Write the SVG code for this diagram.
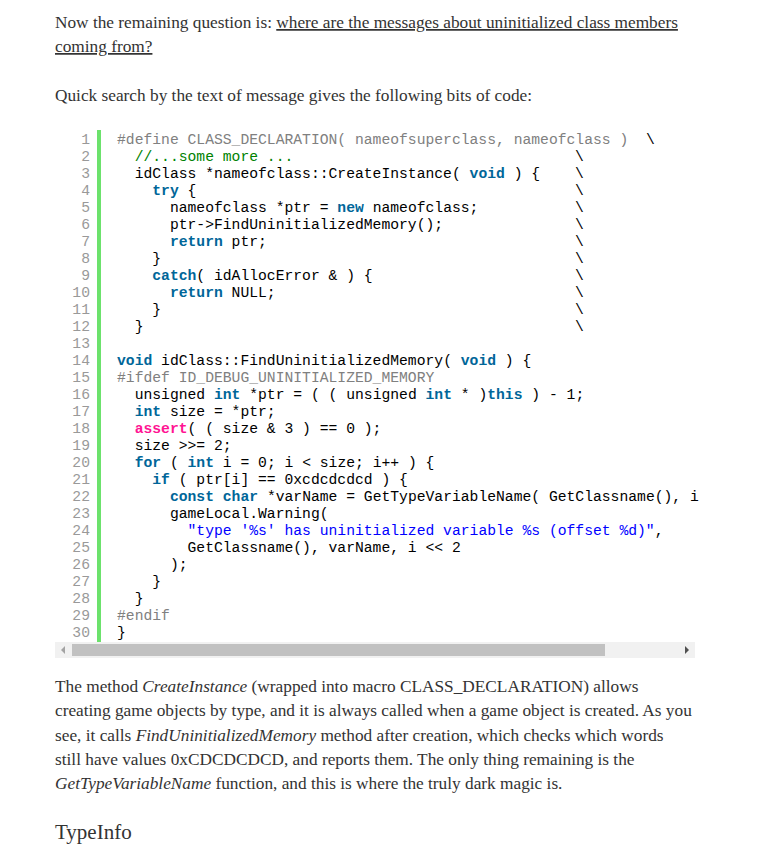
<svg xmlns="http://www.w3.org/2000/svg" width="770" height="858" viewBox="0 0 770 858">
<style>
.p{font-family:"Liberation Serif",serif;font-size:17.3px;fill:#333}
.c{font-family:"Liberation Mono",monospace;font-size:14.7px;fill:#000;white-space:pre}
.n{font-family:"Liberation Mono",monospace;font-size:14.7px;fill:#999;text-anchor:end}
.k{fill:#006699;font-weight:bold}
.pp{fill:#808080}
.cm{fill:#008200}
.s{fill:#0000ff}
.a{fill:#ff1493;font-weight:bold}
.bs{font-family:"Liberation Mono",monospace;font-size:14.7px;fill:#000}
</style>
<rect width="770" height="858" fill="#fff"/>
<g id="intro">
<text class="p" x="55" y="28">Now the remaining question is: <tspan text-decoration="underline">where are the messages about uninitialized class members</tspan></text>
<text class="p" x="55" y="52" text-decoration="underline">coming from?</text>
<text class="p" x="55" y="101">Quick search by the text of message gives the following bits of code:</text>
</g>
<g id="code" xml:space="preserve">
<rect x="97" y="130" width="4" height="512" fill="#6ce26c"/>
<g class="n">
<text x="90" y="144">1</text><text x="90" y="161">2</text><text x="90" y="178">3</text><text x="90" y="195">4</text><text x="90" y="212">5</text><text x="90" y="229">6</text><text x="90" y="246">7</text><text x="90" y="263">8</text><text x="90" y="280">9</text><text x="90" y="297">10</text><text x="90" y="314">11</text><text x="90" y="331">12</text><text x="90" y="348">13</text><text x="90" y="365">14</text><text x="90" y="382">15</text><text x="90" y="399">16</text><text x="90" y="416">17</text><text x="90" y="433">18</text><text x="90" y="450">19</text><text x="90" y="467">20</text><text x="90" y="484">21</text><text x="90" y="501">22</text><text x="90" y="518">23</text><text x="90" y="535">24</text><text x="90" y="552">25</text><text x="90" y="569">26</text><text x="90" y="586">27</text><text x="90" y="603">28</text><text x="90" y="620">29</text><text x="90" y="637">30</text>
</g>
<text class="c" x="117" y="144"><tspan class="pp">#define CLASS_DECLARATION( nameofsuperclass, nameofclass )</tspan></text>
<text class="c" x="117" y="161"><tspan class="cm">  //...some more ...</tspan></text>
<text class="c" x="117" y="178">  idClass *nameofclass::CreateInstance( <tspan class="k">void</tspan> ) {</text>
<text class="c" x="117" y="195">    <tspan class="k">try</tspan> {</text>
<text class="c" x="117" y="212">      nameofclass *ptr = <tspan class="k">new</tspan> nameofclass;</text>
<text class="c" x="117" y="229">      ptr-&gt;FindUninitializedMemory();</text>
<text class="c" x="117" y="246">      <tspan class="k">return</tspan> ptr;</text>
<text class="c" x="117" y="263">    }</text>
<text class="c" x="117" y="280">    <tspan class="k">catch</tspan>( idAllocError &amp; ) {</text>
<text class="c" x="117" y="297">      <tspan class="k">return</tspan> NULL;</text>
<text class="c" x="117" y="314">    }</text>
<text class="c" x="117" y="331">  }</text>
<text class="c" x="117" y="365"><tspan class="k">void</tspan> idClass::FindUninitializedMemory( <tspan class="k">void</tspan> ) {</text>
<text class="c" x="117" y="382"><tspan class="pp">#ifdef ID_DEBUG_UNINITIALIZED_MEMORY</tspan></text>
<text class="c" x="117" y="399">  unsigned <tspan class="k">int</tspan> *ptr = ( ( unsigned <tspan class="k">int</tspan> * )<tspan class="k">this</tspan> ) - 1;</text>
<text class="c" x="117" y="416">  <tspan class="k">int</tspan> size = *ptr;</text>
<text class="c" x="117" y="433">  <tspan class="a">assert</tspan>( ( size &amp; 3 ) == 0 );</text>
<text class="c" x="117" y="450">  size &gt;&gt;= 2;</text>
<text class="c" x="117" y="467">  <tspan class="k">for</tspan> ( <tspan class="k">int</tspan> i = 0; i &lt; size; i++ ) {</text>
<text class="c" x="117" y="484">    <tspan class="k">if</tspan> ( ptr[i] == 0xcdcdcdcd ) {</text>
<text class="c" x="117" y="501">      <tspan class="k">const</tspan> <tspan class="k">char</tspan> *varName = GetTypeVariableName( GetClassname(), i</text>
<text class="c" x="117" y="518">      gameLocal.Warning(</text>
<text class="c" x="117" y="535">        <tspan class="s">"type '%s' has uninitialized variable %s (offset %d)"</tspan>,</text>
<text class="c" x="117" y="552">        GetClassname(), varName, i &lt;&lt; 2</text>
<text class="c" x="117" y="569">      );</text>
<text class="c" x="117" y="586">    }</text>
<text class="c" x="117" y="603">  }</text>
<text class="c" x="117" y="620"><tspan class="pp">#endif</tspan></text>
<text class="c" x="117" y="637">}</text>
<text class="bs" x="646" y="144" fill="#808080">\</text>
<text class="bs" x="575" y="161" fill="#008200">\</text>
<g class="bs"><text x="575" y="178">\</text><text x="575" y="195">\</text><text x="575" y="212">\</text><text x="575" y="229">\</text><text x="575" y="246">\</text><text x="575" y="263">\</text><text x="575" y="280">\</text><text x="575" y="297">\</text><text x="575" y="314">\</text><text x="575" y="331">\</text></g>
</g>
<g id="scrollbar">
<rect x="55" y="642" width="640" height="16" fill="#f1f1f1"/>
<rect x="72" y="644" width="533" height="12" fill="#c1c1c1"/>
<path d="M65 646 L61 650 L65 654 Z" fill="#a3a3a3"/>
<path d="M685 646 L689 650 L685 654 Z" fill="#505050"/>
</g>
<g id="body">
<text class="p" x="55" y="692">The method <tspan font-style="italic">CreateInstance</tspan> (wrapped into macro CLASS_DECLARATION) allows</text>
<text class="p" x="55" y="716">creating game objects by type, and it is always called when a game object is created. As you</text>
<text class="p" x="55" y="741">see, it calls <tspan font-style="italic">FindUninitializedMemory</tspan> method after creation, which checks which words</text>
<text class="p" x="55" y="765">still have values 0xCDCDCDCD, and reports them. The only thing remaining is the</text>
<text class="p" x="55" y="789"><tspan font-style="italic">GetTypeVariableName</tspan> function, and this is where the truly dark magic is.</text>
<text class="p" x="55" y="839" style="font-size:21px">TypeInfo</text>
</g>
</svg>
